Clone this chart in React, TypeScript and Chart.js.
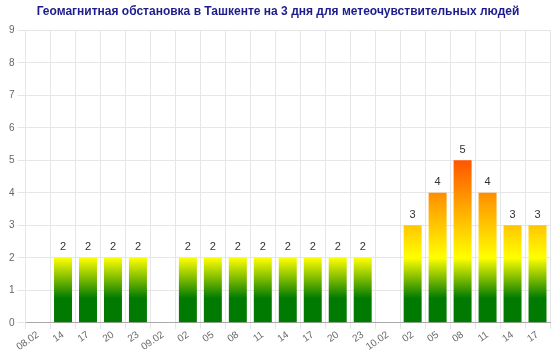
import React, { useEffect, useRef } from "react";
import { Chart, registerables } from "chart.js";

Chart.register(...registerables);

const TITLE = "Геомагнитная обстановка в Ташкенте на 3 дня для метеочувствительных людей";
const categories = ["08.02", "14", "17", "20", "23", "09.02", "02", "05", "08", "11", "14", "17", "20", "23", "10.02", "02", "05", "08", "11", "14", "17"];
const kpValues: (number | null)[] = [null, 2, 2, 2, 2, null, 2, 2, 2, 2, 2, 2, 2, 2, null, 3, 4, 5, 4, 3, 3];
const yTicks = [0, 1, 2, 3, 4, 5, 6, 7, 8, 9];

const FONT = "Arial, 'Liberation Sans', sans-serif";

const valueLabels = {
  id: "valueLabels",
  afterDatasetsDraw(chart: any) {
    const ctx = chart.ctx;
    const meta = chart.getDatasetMeta(0);
    ctx.save();
    ctx.font = "11px " + FONT;
    ctx.fillStyle = "#333";
    ctx.textAlign = "center";
    ctx.textBaseline = "bottom";
    meta.data.forEach((el: any, i: number) => {
      const v = kpValues[i];
      if (v == null) return;
      ctx.fillText(String(v), el.x, el.y - 5);
    });
    ctx.restore();
  },
};

export default function App() {
  const ref = useRef<HTMLCanvasElement>(null);
  useEffect(() => {
    document.body.style.margin = "0";
    const canvas = ref.current!;
    const chart = new Chart(canvas, {
      type: "bar",
      data: {
        labels: categories,
        datasets: [
          {
            data: kpValues,
            backgroundColor: (c: any) => {
              const ch = c.chart;
              const area = ch.chartArea;
              if (!area) return "green";
              const y = ch.scales.y;
              const y0 = y.getPixelForValue(0);
              const y9 = y.getPixelForValue(9);
              const g = ch.ctx.createLinearGradient(0, y0, 0, y9);
              const f = (v: number) => v / 9;
              g.addColorStop(0, "#007a00");
              g.addColorStop(f(0.75), "#007a00");
              g.addColorStop(f(2), "#ffff00");
              g.addColorStop(f(6.5), "#ff0000");
              g.addColorStop(1, "#ff0000");
              return g;
            },
            barPercentage: 0.9,
            categoryPercentage: 0.8,
          },
        ],
      },
      options: {
        animation: false,
        responsive: false,
        maintainAspectRatio: false,
        layout: { padding: { left: 6, right: 10, top: 0, bottom: 4 } },
        plugins: {
          legend: { display: false },
          tooltip: { enabled: false },
          title: {
            display: true,
            text: TITLE,
            color: "#1c1c8c",
            font: { family: FONT, size: 12, weight: "bold" },
            padding: { top: 4, bottom: 12 },
          },
        },
        scales: {
          x: {
            grid: { color: "#e6e6e6", offset: true, tickLength: 6 },
            border: { color: "#aaa" },
            ticks: {
              color: "#666",
              font: { family: FONT, size: 10 },
              minRotation: 35,
              maxRotation: 35,
              autoSkip: false,
              padding: 0,
            },
          },
          y: {
            min: 0,
            max: 9,
            afterBuildTicks: (s: any) => {
              s.ticks = yTicks.map((v) => ({ value: v }));
            },
            grid: { color: "#e6e6e6", tickLength: 8 },
            border: { color: "#e6e6e6" },
            ticks: {
              color: "#666",
              font: { family: FONT, size: 10 },
              padding: 3,
            },
          },
        },
      },
      plugins: [valueLabels],
    });
    return () => chart.destroy();
  }, []);
  return <canvas ref={ref} width={560} height={357} style={{ display: "block" }} />;
}
